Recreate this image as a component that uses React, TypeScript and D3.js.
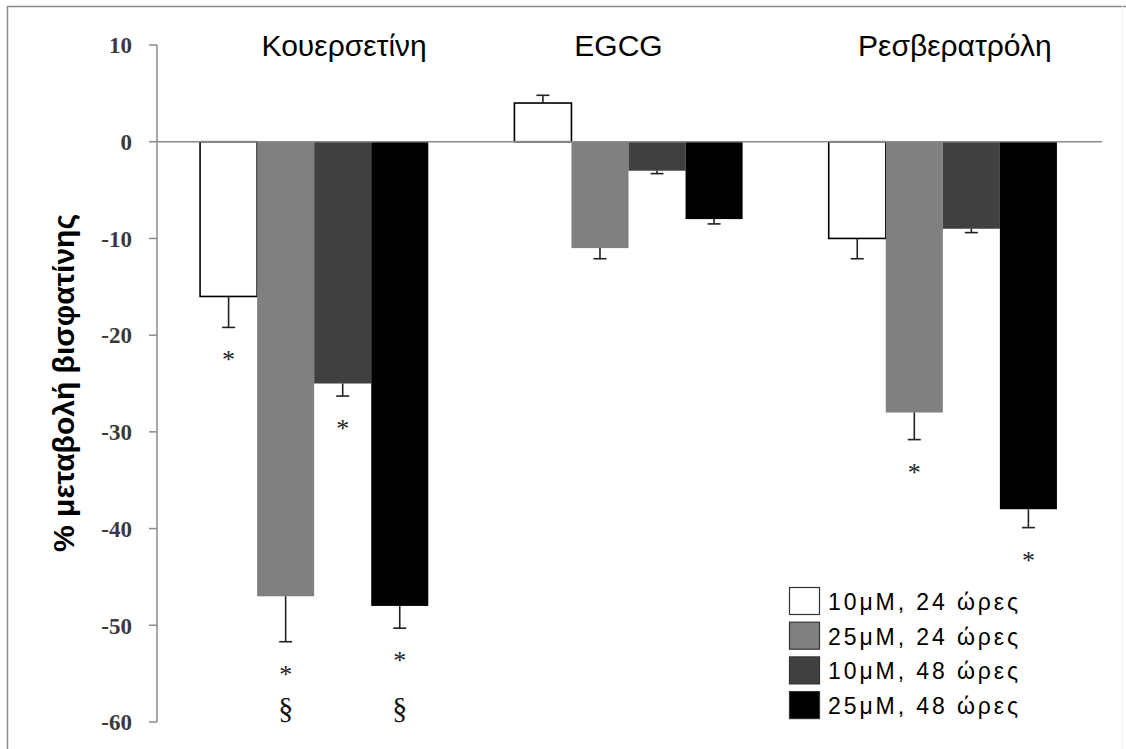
import React from "react";
import * as d3 from "d3";

const categories = ["Κουερσετίνη", "EGCG", "Ρεσβερατρόλη"];
const seriesNames = ["10μM, 24 ώρες", "25μM, 24 ώρες", "10μM, 48 ώρες", "25μM, 48 ώρες"];
const s10_24 = [-16, 4, -10];
const s25_24 = [-47, -11, -28];
const s10_48 = [-25, -3, -9];
const s25_48 = [-48, -8, -38];
const e10_24 = [3.2, 0.8, 2.1];
const e25_24 = [4.7, 1.1, 2.8];
const e10_48 = [1.3, 0.3, 0.4];
const e25_48 = [2.3, 0.5, 1.9];
const star10_24 = [true, false, false];
const star25_24 = [true, false, true];
const star10_48 = [true, false, false];
const star25_48 = [true, false, true];
const sect25_24 = [true, false, false];
const sect25_48 = [true, false, false];
const yTicks = [10, 0, -10, -20, -30, -40, -50, -60];
const yLabel = "% μεταβολή βισφατίνης";

const colors = ["#ffffff", "#808080", "#404040", "#000000"];
const labelOffsets = [30, -10, 12];

export default function App() {
  const W = 1126, H = 749;
  const values = [s10_24, s25_24, s10_48, s25_48];
  const errs = [e10_24, e25_24, e10_48, e25_48];
  const stars = [star10_24, star25_24, star10_48, star25_48];
  const sects = [null, sect25_24, null, sect25_48];

  const y = d3.scaleLinear().domain([-60, 10]).range([722, 45]);
  const x = d3.scaleBand<string>().domain(categories).range([157, 1100]).paddingInner(0.274).paddingOuter(0.137);
  const xs = d3.scaleBand<string>().domain(seriesNames).range([0, x.bandwidth()]).padding(0);

  const bars: React.ReactNode[] = [];
  const errBars: React.ReactNode[] = [];
  const marks: React.ReactNode[] = [];

  categories.forEach((c, ci) => {
    seriesNames.forEach((s, si) => {
      const v = values[si][ci];
      const x0 = (x(c) as number) + (xs(s) as number);
      const bw = xs.bandwidth();
      const top = y(Math.max(0, v));
      const bot = y(Math.min(0, v));
      bars.push(
        <rect key={`b${ci}${si}`} x={x0} y={top} width={bw} height={bot - top}
          fill={colors[si]} stroke={si === 0 ? "#000" : "none"} strokeWidth={si === 0 ? 1.6 : 0} />
      );
      const e = errs[si][ci];
      const cx = x0 + bw / 2;
      const endV = v >= 0 ? v + e : v - e;
      errBars.push(
        <g key={`e${ci}${si}`} stroke="#222" strokeWidth={1.6}>
          <line x1={cx} x2={cx} y1={y(v)} y2={y(endV)} />
          <line x1={cx - 6.5} x2={cx + 6.5} y1={y(endV)} y2={y(endV)} />
        </g>
      );
      if (stars[si][ci]) {
        const sy = y(endV) + 27;
        marks.push(
          <text key={`s${ci}${si}`} x={cx} y={sy + 14} textAnchor="middle"
            fontFamily="Liberation Serif" fontSize={26} fill="#222">*</text>
        );
        const sc = sects[si];
        if (sc && sc[ci]) {
          marks.push(
            <text key={`p${ci}${si}`} x={cx} y={718} textAnchor="middle"
              fontFamily="Liberation Serif" fontSize={30} fill="#111">§</text>
          );
        }
      }
    });
  });

  return (
    <svg width={W} height={H} style={{ position: "absolute", left: 0, top: 0, background: "#fff" }}>
      <rect x={0} y={0} width={W} height={H} fill="#fff" />
      <line x1={7} x2={1126} y1={6.5} y2={6.5} stroke="#8a8a8a" strokeWidth={1.5} />
      <line x1={7.5} x2={7.5} y1={6} y2={749} stroke="#8a8a8a" strokeWidth={1.5} />
      <line x1={1122.5} x2={1122.5} y1={6} y2={749} stroke="#eeeeee" strokeWidth={1} />

      {/* y axis */}
      <line x1={157} x2={157} y1={y(10)} y2={y(-60)} stroke="#8a8a8a" strokeWidth={1.5} />
      {yTicks.map((t) => (
        <g key={`t${t}`}>
          <line x1={149} x2={157} y1={y(t)} y2={y(t)} stroke="#8a8a8a" strokeWidth={1.5} />
          <text x={132} y={y(t)} dy="0.36em" textAnchor="end" fontFamily="Liberation Serif"
            fontWeight="bold" fontSize={23} fill="#3a3a3a">{t}</text>
        </g>
      ))}
      <text transform={`translate(74,383) rotate(-90)`} textAnchor="middle" fontFamily="Liberation Sans"
        fontWeight="bold" fontSize={30} fill="#000">{yLabel}</text>

      {bars}
      <line x1={157} x2={1102} y1={y(0)} y2={y(0)} stroke="#8a8a8a" strokeWidth={1.5} />
      {errBars}
      {marks}

      {categories.map((c, ci) => (
        <text key={`c${ci}`} x={(x(c) as number) + x.bandwidth() / 2 + labelOffsets[ci]} y={56}
          textAnchor="middle" fontFamily="Liberation Sans" fontSize={30} fill="#000">{c}</text>
      ))}

      {/* legend */}
      {seriesNames.map((s, si) => (
        <g key={`l${si}`} transform={`translate(789,${587 + si * 34.7})`}>
          <rect x={0.5} y={0.5} width={30} height={27} fill={colors[si]} stroke="#333" strokeWidth={1.2} />
          <text x={39} y={23} fontFamily="Liberation Sans" fontSize={23} fill="#000"
            textLength={190} lengthAdjust="spacing">{s}</text>
        </g>
      ))}
    </svg>
  );
}
